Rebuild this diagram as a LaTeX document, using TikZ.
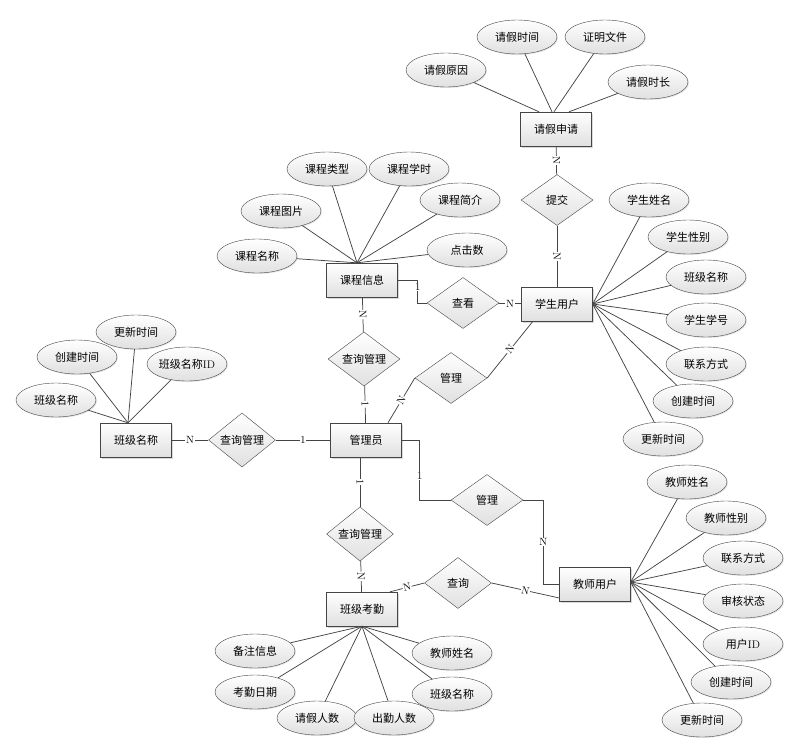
\documentclass[tikz,border=0pt]{standalone}
\usepackage{fontspec}
\newfontfamily\cjk{Noto Sans CJK SC}
\usepackage{tikz}
\usetikzlibrary{shapes.geometric,shadows}
\definecolor{erline}{HTML}{454545}
\definecolor{erfill}{HTML}{E0E0E0}

\begin{document}
\begin{tikzpicture}[x=1pt,y=-1pt,
    entity/.style={draw=erline,rectangle,minimum width=71pt,minimum height=34pt,inner sep=0pt,
      top color=white,bottom color=erfill,drop shadow={shadow xshift=1.5pt,shadow yshift=-1.5pt,opacity=0.3},
      font=\cjk\fontsize{11}{13}\selectfont},
    attr/.style={draw=erline,ellipse,minimum width=80pt,minimum height=34pt,inner sep=0pt,
      top color=white,bottom color=erfill,drop shadow={shadow xshift=1pt,shadow yshift=-1pt,opacity=0.2},
      font=\cjk\fontsize{11}{13}\selectfont},
    rel/.style={draw=erline,diamond,minimum width=72pt,minimum height=51pt,inner sep=0pt,
      top color=white,bottom color=erfill,font=\cjk\fontsize{11}{13}\selectfont},
    link/.style={draw=erline,line width=0.75pt},
    card/.style={fill=white,inner sep=0.6pt,font=\fontsize{10.5}{10.5}\selectfont}]
    \useasboundingbox (0,0) rectangle (800,750);
    % --- entidades ---
    \node[entity] (qjsq) at (556,129) {请假申请};
    \node[entity] (kcxx) at (362,280) {课程信息};
    \node[entity] (xsyh) at (557,304) {学生用户};
    \node[entity] (gly)  at (366,440) {管理员};
    \node[entity] (bjmc) at (136,440) {班级名称};
    \node[entity] (bjkq) at (362,609) {班级考勤};
    \node[entity] (jsyh) at (595,584) {教师用户};
    % --- relaciones ---
    \node[rel] (tj)    at (557,200) {提交};
    \node[rel] (ck)    at (463,303) {查看};
    \node[rel] (cxgl1) at (364,359) {查询管理};
    \node[rel] (gl1)   at (451,378) {管理};
    \node[rel,minimum width=67pt] (cxgl2) at (242,440) {查询管理};
    \node[rel] (gl2)   at (487,500) {管理};
    \node[rel,minimum width=67pt] (cxgl3) at (360,534) {查询管理};
    \node[rel,minimum width=67pt] (cx)    at (458,583) {查询};
    % --- atributos: 请假申请 ---
    \foreach \n/\x/\y/\t/\o in {qjyy/446/70/请假原因/-17,qjsj/517/37/请假时间/-4,
        zmwj/605/37/证明文件/-2,qjsc/648/82/请假时长/13}{
      \node[attr] (\n) at (\x,\y) {\t};
      \draw[link] ([xshift=\o pt]qjsq.north) -- (\n);
    }
    % atributos: 课程信息
    \coordinate (kcxxtop) at ([xshift=-5pt]kcxx.north);
    \foreach \n/\x/\y/\t in {kclx/327/169/课程类型,kcxs/409/169/课程学时,kctp/281/211/课程图片,
        kcjj/460/200/课程简介,kcmc/257/256/课程名称,djs/467/250/点击数}{
      \node[attr] (\n) at (\x,\y) {\t};
      \draw[link] (kcxxtop) -- (\n);
    }
    % atributos: 班级名称
    \coordinate (bjmctop) at ([xshift=-8pt]bjmc.north);
    \foreach \n/\x/\y/\t in {bjmca/56/400/班级名称,cjsja/77/357/创建时间,gxsja/136/332/更新时间,
        bjid/187/364/{班级名称\rmfamily ID}}{
      \node[attr] (\n) at (\x,\y) {\t};
      \draw[link] (bjmctop) -- (\n);
    }
    % atributos: 学生用户
    \foreach \n/\x/\y/\t in {xsxm/649/200/学生姓名,xsxb/688/237/学生性别,bjmcb/706/277/班级名称,
        xsxh/706/320/学生学号,lxfsa/706/364/联系方式,cjsjb/693/401/创建时间,gxsjb/663/439/更新时间}{
      \node[attr] (\n) at (\x,\y) {\t};
      \draw[link] (xsyh.east) -- (\n);
    }
    % atributos: 教师用户
    \foreach \n/\x/\y/\t in {jsxm/687/482/教师姓名,jsxb/726/518/教师性别,lxfsb/743/558/联系方式,
        shzt/743/601/审核状态,yhid/743/644/{用户\rmfamily ID},cjsjc/731/682/创建时间,gxsjc/702/720/更新时间}{
      \node[attr] (\n) at (\x,\y) {\t};
      \draw[link] ([yshift=2pt]jsyh.east) -- (\n);
    }
    % atributos: 班级考勤
    \foreach \n/\x/\y/\t in {bzxx/255/651/备注信息,kqrq/255/692/考勤日期,qjrs/317/718/请假人数,
        cqrs/394/718/出勤人数,jsxmb/452/653/教师姓名,bjmcc/452/694/班级名称}{
      \node[attr] (\n) at (\x,\y) {\t};
      \draw[link] (bjkq.south) -- (\n);
    }
    % --- conectores ---
    \draw[link] (qjsq) -- node[card,sloped]{N} (tj);
    \draw[link] (tj) -- node[card,sloped]{N} (xsyh);
    \draw[link] (kcxx.east) -- ++(20,0) |- node[card,pos=0.15]{1} (ck.west);
    \draw[link] (ck) -- node[card]{N} (xsyh);
    \draw[link] (kcxx) -- node[card,sloped]{N} (cxgl1);
    \draw[link] (cxgl1) -- node[card,sloped]{1} (gly);
    \draw[link] ([xshift=22pt]gly.north) -- node[card,sloped]{N} (gl1.west);
    \draw[link] (gl1.east) -- node[card,sloped]{N} ([xshift=-24pt]xsyh.south);
    \draw[link] (bjmc) -- node[card]{N} (cxgl2);
    \draw[link] (cxgl2) -- node[card]{1} (gly);
    \draw[link] (gly.east) -- ++(18,0) |- node[card,pos=0.3]{1} (gl2.west);
    \draw[link] (gl2.east) -- ++(20,0) |- node[card,pos=0.25]{N} (jsyh.west);
    \draw[link] ([xshift=-6pt]gly.south) -- node[card,sloped]{1} (cxgl3);
    \draw[link] (cxgl3) -- node[card,sloped]{N} (bjkq);
    \draw[link] ([xshift=28pt]bjkq.north) -- node[card,sloped]{N} (cx.west);
    \draw[link] (cx.east) -- node[card,sloped]{N} ([yshift=-14pt]jsyh.west);
\end{tikzpicture}
\end{document}
